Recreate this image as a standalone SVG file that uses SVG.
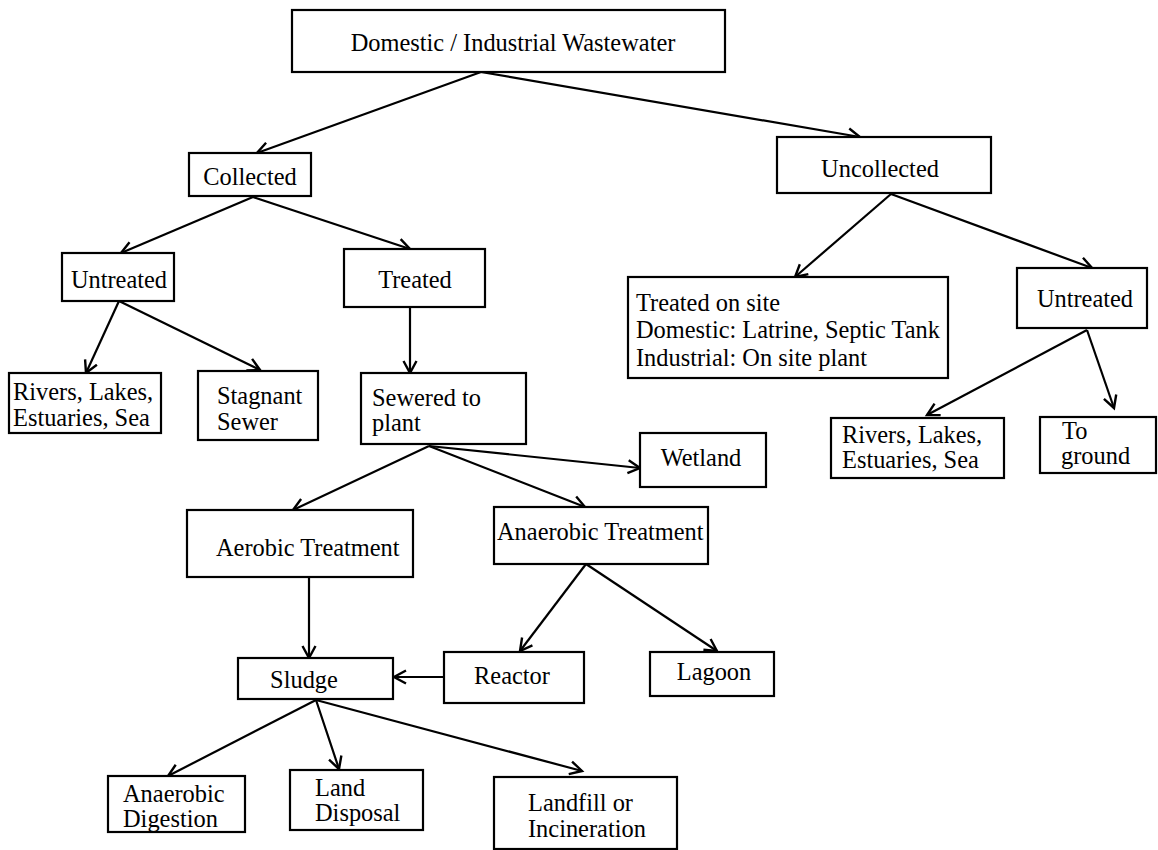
<svg xmlns="http://www.w3.org/2000/svg" width="1158" height="850" viewBox="0 0 1158 850">
  <style>
    .box { fill: #ffffff; stroke: #000000; stroke-width: 2.2; }
    .lbl { font-size: 24.4px; fill: #000000; }
    .mid { text-anchor: middle; }
    .edge { fill: none; stroke: #000000; stroke-width: 2.2; marker-end: url(#arrow); }
  </style>
  <defs>
    <marker id="arrow" markerUnits="userSpaceOnUse" markerWidth="18" markerHeight="18" refX="13" refY="8" orient="auto">
      <path d="M1,1.5 L13,8 L1,14.5" fill="none" stroke="#000000" stroke-width="2.4"/>
    </marker>
  </defs>
  <rect width="1158" height="850" fill="#ffffff"/>

  <g id="connectors">
    <line class="edge" x1="481" y1="72" x2="257" y2="153"/>
    <line class="edge" x1="481" y1="72" x2="860" y2="137"/>
    <line class="edge" x1="253" y1="197" x2="121" y2="253"/>
    <line class="edge" x1="253" y1="197" x2="410" y2="249"/>
    <line class="edge" x1="891" y1="194" x2="795" y2="277"/>
    <line class="edge" x1="891" y1="194" x2="1092" y2="268"/>
    <line class="edge" x1="119" y1="301" x2="86" y2="373"/>
    <line class="edge" x1="119" y1="301" x2="260" y2="370"/>
    <line class="edge" x1="410" y1="307" x2="410" y2="373"/>
    <line class="edge" x1="1087" y1="330" x2="927" y2="415"/>
    <line class="edge" x1="1087" y1="330" x2="1114" y2="408"/>
    <line class="edge" x1="429" y1="446" x2="293" y2="510"/>
    <line class="edge" x1="429" y1="446" x2="585" y2="507"/>
    <line class="edge" x1="429" y1="446" x2="640" y2="468"/>
    <line class="edge" x1="309" y1="577" x2="309" y2="658"/>
    <line class="edge" x1="586" y1="564" x2="520" y2="651"/>
    <line class="edge" x1="586" y1="564" x2="717" y2="651"/>
    <line class="edge" x1="444" y1="677" x2="394" y2="677"/>
    <line class="edge" x1="316" y1="700" x2="168" y2="776"/>
    <line class="edge" x1="316" y1="700" x2="339" y2="769"/>
    <line class="edge" x1="316" y1="700" x2="582" y2="771"/>
  </g>

  <g id="wastewater">
    <rect class="box" x="292" y="10" width="433" height="62"/>
    <text class="lbl mid" font-family="Liberation Serif" x="513" y="51">Domestic / Industrial Wastewater</text>
  </g>
  <g id="collected">
    <rect class="box" x="189" y="153" width="122" height="43"/>
    <text class="lbl mid" font-family="Liberation Serif" x="250" y="185">Collected</text>
  </g>
  <g id="uncollected">
    <rect class="box" x="777" y="137" width="214" height="56"/>
    <text class="lbl mid" font-family="Liberation Serif" x="880" y="177">Uncollected</text>
  </g>
  <g id="untreated-collected">
    <rect class="box" x="62" y="253" width="112" height="48"/>
    <text class="lbl mid" font-family="Liberation Serif" x="119" y="288">Untreated</text>
  </g>
  <g id="treated">
    <rect class="box" x="344" y="249" width="141" height="58"/>
    <text class="lbl mid" font-family="Liberation Serif" x="415" y="288">Treated</text>
  </g>
  <g id="treated-on-site">
    <rect class="box" x="628" y="277" width="320" height="101"/>
    <text class="lbl" font-family="Liberation Serif" x="636" y="311">Treated on site</text>
    <text class="lbl" font-family="Liberation Serif" x="636" y="338">Domestic: Latrine, Septic Tank</text>
    <text class="lbl" font-family="Liberation Serif" x="636" y="366">Industrial: On site plant</text>
  </g>
  <g id="untreated-uncollected">
    <rect class="box" x="1017" y="268" width="130" height="60"/>
    <text class="lbl mid" font-family="Liberation Serif" x="1085" y="307">Untreated</text>
  </g>
  <g id="water-bodies-collected">
    <rect class="box" x="9" y="373" width="152" height="60"/>
    <text class="lbl" font-family="Liberation Serif" x="13" y="400">Rivers, Lakes,</text>
    <text class="lbl" font-family="Liberation Serif" x="13" y="426">Estuaries, Sea</text>
  </g>
  <g id="stagnant-sewer">
    <rect class="box" x="198" y="371" width="120" height="69"/>
    <text class="lbl" font-family="Liberation Serif" x="217" y="404">Stagnant</text>
    <text class="lbl" font-family="Liberation Serif" x="217" y="430">Sewer</text>
  </g>
  <g id="sewered-to-plant">
    <rect class="box" x="361" y="373" width="165" height="71"/>
    <text class="lbl" font-family="Liberation Serif" x="372" y="406">Sewered to</text>
    <text class="lbl" font-family="Liberation Serif" x="372" y="431">plant</text>
  </g>
  <g id="water-bodies-uncollected">
    <rect class="box" x="831" y="418" width="173" height="60"/>
    <text class="lbl" font-family="Liberation Serif" x="842" y="443">Rivers, Lakes,</text>
    <text class="lbl" font-family="Liberation Serif" x="842" y="468">Estuaries, Sea</text>
  </g>
  <g id="to-ground">
    <rect class="box" x="1040" y="417" width="116" height="56"/>
    <text class="lbl" font-family="Liberation Serif" x="1062" y="439">To</text>
    <text class="lbl" font-family="Liberation Serif" x="1061" y="464">ground</text>
  </g>
  <g id="wetland">
    <rect class="box" x="640" y="433" width="126" height="54"/>
    <text class="lbl mid" font-family="Liberation Serif" x="701" y="466">Wetland</text>
  </g>
  <g id="aerobic-treatment">
    <rect class="box" x="187" y="510" width="226" height="67"/>
    <text class="lbl" font-family="Liberation Serif" x="216" y="556">Aerobic Treatment</text>
  </g>
  <g id="anaerobic-treatment">
    <rect class="box" x="494" y="507" width="214" height="57"/>
    <text class="lbl" font-family="Liberation Serif" x="497" y="540">Anaerobic Treatment</text>
  </g>
  <g id="sludge">
    <rect class="box" x="238" y="658" width="155" height="41"/>
    <text class="lbl mid" font-family="Liberation Serif" x="304" y="688">Sludge</text>
  </g>
  <g id="reactor">
    <rect class="box" x="444" y="652" width="140" height="51"/>
    <text class="lbl mid" font-family="Liberation Serif" x="512" y="684">Reactor</text>
  </g>
  <g id="lagoon">
    <rect class="box" x="650" y="652" width="124" height="44"/>
    <text class="lbl mid" font-family="Liberation Serif" x="714" y="680">Lagoon</text>
  </g>
  <g id="anaerobic-digestion">
    <rect class="box" x="108" y="776" width="137" height="56"/>
    <text class="lbl" font-family="Liberation Serif" x="123" y="802">Anaerobic</text>
    <text class="lbl" font-family="Liberation Serif" x="123" y="827">Digestion</text>
  </g>
  <g id="land-disposal">
    <rect class="box" x="290" y="770" width="133" height="60"/>
    <text class="lbl" font-family="Liberation Serif" x="315" y="796">Land</text>
    <text class="lbl" font-family="Liberation Serif" x="315" y="821">Disposal</text>
  </g>
  <g id="landfill-incineration">
    <rect class="box" x="494" y="777" width="183" height="72"/>
    <text class="lbl" font-family="Liberation Serif" x="528" y="811">Landfill or</text>
    <text class="lbl" font-family="Liberation Serif" x="528" y="837">Incineration</text>
  </g>
</svg>
